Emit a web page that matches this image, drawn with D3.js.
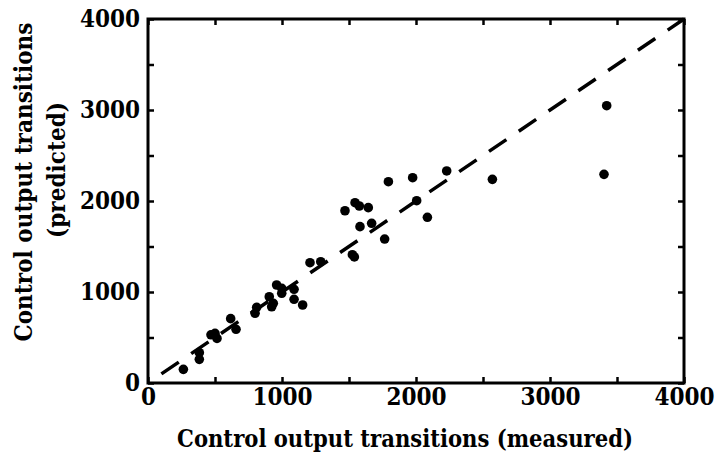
<!DOCTYPE html>
<html><head><meta charset="utf-8">
<script src="https://cdn.jsdelivr.net/npm/d3@7"></script>
<style>
body{margin:0;background:#fff;}
text{font-family:"DejaVu Serif","Liberation Serif",serif;font-weight:bold;font-stretch:condensed;fill:#000;}
</style></head>
<body><svg id="c" width="715" height="458"></svg>
<script>
const measured  = [264,383,383,470,500,515,617,657,799,811,905,923,935,960,998,998,1090,1090,1154,1209,1289,1525,1540,1470,1545,1577,1644,1582,1669,1766,1794,1975,2005,2085,2229,2570,3403,3423];
const predicted = [150,260,333,530,545,490,707,590,766,832,948,838,876,1077,986,1040,1030,920,857,1322,1333,1410,1385,1893,1981,1945,1927,1718,1755,1582,2212,2256,2003,1821,2330,2238,2293,3047];
const tickValues = [0,500,1000,1500,2000,2500,3000,3500,4000];
const tickLabels = ["0","","1000","","2000","","3000","","4000"];
const refLine = [100,4000];
const xTitle = "Control output transitions (measured)";
const yTitle1 = "Control output transitions";
const yTitle2 = "(predicted)";

const svg = d3.select("#c");
const x = d3.scaleLinear().domain([0,4000]).range([148,684]);
const y = d3.scaleLinear().domain([0,4000]).range([383,19]);
const fmt = (d,i)=>tickLabels[i];

// reference line y = x
svg.append("line")
  .attr("x1",x(refLine[0])).attr("y1",y(refLine[0]))
  .attr("x2",x(refLine[1])).attr("y2",y(refLine[1]))
  .attr("stroke","#000").attr("stroke-width",3.5)
  .attr("stroke-dasharray","21,15");

// points
svg.append("g").selectAll("circle").data(measured).join("circle")
  .attr("cx",(d)=>x(d)).attr("cy",(d,i)=>y(predicted[i]))
  .attr("r",4.8).attr("fill","#000");

function styleAxis(g){
  g.select(".domain").remove();
  g.selectAll(".tick line").attr("stroke","#000").attr("stroke-width",2.5);
  g.selectAll(".tick text").attr("font-size",24);
}
svg.append("g").attr("transform","translate(0,383)")
  .call(d3.axisBottom(x).tickValues(tickValues).tickFormat(fmt).tickSize(-6).tickPadding(4))
  .call(styleAxis).selectAll(".tick text").attr("dy","0.75em");
svg.append("g").attr("transform","translate(0,19)")
  .call(d3.axisTop(x).tickValues(tickValues).tickFormat(()=>"").tickSize(-6))
  .call(styleAxis);
svg.append("g").attr("transform","translate(148,0)")
  .call(d3.axisLeft(y).tickValues(tickValues).tickFormat(fmt).tickSize(-6).tickPadding(8))
  .call(styleAxis);
svg.append("g").attr("transform","translate(684,0)")
  .call(d3.axisRight(y).tickValues(tickValues).tickFormat(()=>"").tickSize(-6))
  .call(styleAxis);

// frame
svg.append("rect").attr("x",148).attr("y",19).attr("width",536).attr("height",364)
  .attr("fill","none").attr("stroke","#000").attr("stroke-width",3);

// titles
svg.append("text").attr("x",405).attr("y",447).attr("text-anchor","middle")
  .attr("font-size",23.5).text(xTitle);
svg.append("text").attr("transform","translate(32,182) rotate(-90)").attr("text-anchor","middle")
  .attr("font-size",24).text(yTitle1);
svg.append("text").attr("transform","translate(65,170) rotate(-90)").attr("text-anchor","middle")
  .attr("font-size",24).text(yTitle2);
</script></body></html>
